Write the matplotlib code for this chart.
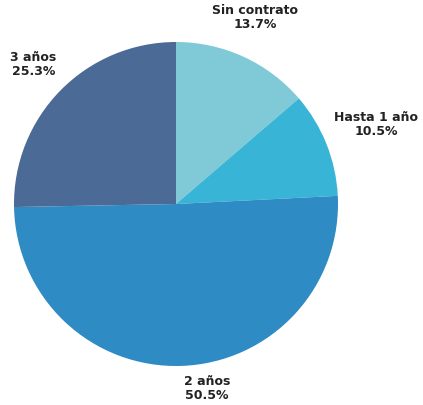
import matplotlib.pyplot as plt

labels = ['Sin contrato', 'Hasta 1 año', '2 años', '3 años']
shares = [13.7, 10.5, 50.5, 25.3]
colors = ['#7fcad6', '#38b4d6', '#2e8bc3', '#4b6a96']
# label anchor points, in units of the pie radius
label_xy = [(0.49, 1.15), (1.235, 0.49), (0.19, -1.14), (-0.88, 0.86)]

plt.rcParams['font.family'] = ['DejaVu Sans']

fig = plt.figure(figsize=(4.23, 4.05), dpi=100)
ax = fig.add_axes([0, 0, 1, 1])

ax.pie(shares, colors=colors, startangle=90, counterclock=False,
       radius=1.0, wedgeprops=dict(linewidth=0))

for lab, val, (x, y) in zip(labels, shares, label_xy):
    ax.text(x, y, f'{lab}\n{val:.1f}%', ha='center', va='center',
            fontsize=9, fontweight='bold', color='#222222', linespacing=1.05)

# 162 px per unit in both directions, pie centre at (176, 204) px
ax.set_xlim(-176 / 162, (423 - 176) / 162)
ax.set_ylim(-(405 - 204) / 162, 204 / 162)
ax.set_aspect('auto')
ax.axis('off')

fig.savefig('out.png', dpi=100)
